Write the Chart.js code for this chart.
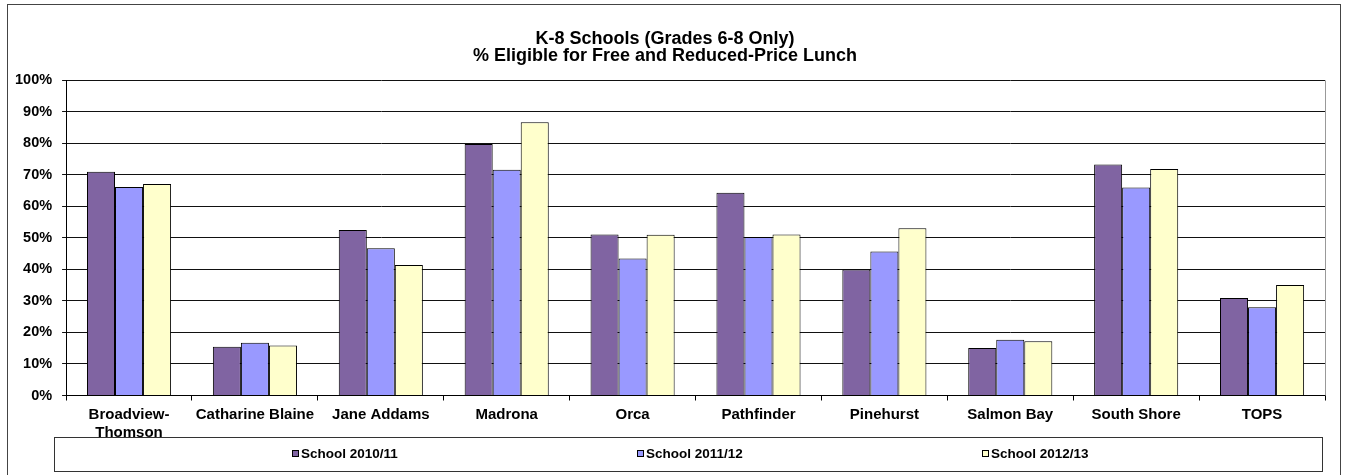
<!DOCTYPE html>
<html>
<head>
<meta charset="utf-8">
<title>K-8 Schools - Free and Reduced-Price Lunch</title>
<script src="https://cdn.jsdelivr.net/npm/chart.js"></script>
<style>
    html, body { margin: 0; padding: 0; background: #fff; }
    #chart { display: block; }
</style>
</head>
<body>
<canvas id="chart" width="1348" height="475"></canvas>
<script>
// dados
const escolas = [['Broadview-', 'Thomson'], 'Catharine Blaine', 'Jane Addams', 'Madrona', 'Orca',
    'Pathfinder', 'Pinehurst', 'Salmon Bay', 'South Shore', 'TOPS'];
const anos = ['School 2010/11', 'School 2011/12', 'School 2012/13'];
const valores2010 = [71.0, 15.5, 52.5, 79.8, 51.1, 64.3, 40.0, 15.1, 73.3, 30.9];
const valores2011 = [66.2, 16.7, 46.7, 71.6, 43.5, 50.3, 45.7, 17.7, 66.0, 28.0];
const valores2012 = [67.1, 15.9, 41.4, 86.7, 51.0, 51.1, 53.1, 17.2, 71.9, 35.1];
const ticksY = [0, 10, 20, 30, 40, 50, 60, 70, 80, 90, 100];

const cores = ['#8064A2', '#9999FF', '#FFFFCC'];
const fonte = "'Liberation Sans', Arial, sans-serif";

// moldura externa, caixa da legenda e borda direita da área do gráfico
const molduraPlugin = {
    id: 'moldura',
    beforeDraw(chart) {
        const ctx = chart.ctx;
        ctx.save();
        ctx.fillStyle = '#fff';
        ctx.fillRect(0, 0, chart.width, chart.height);
        ctx.strokeStyle = '#444';
        ctx.lineWidth = 1;
        ctx.strokeRect(7.5, 4.5, chart.width - 15, chart.height + 20);
        ctx.restore();
    },
    afterDraw(chart) {
        const ctx = chart.ctx;
        const area = chart.chartArea;
        ctx.save();
        ctx.strokeStyle = '#999';
        ctx.lineWidth = 1;
        ctx.beginPath();
        ctx.moveTo(Math.round(area.right) + 0.5, area.top);
        ctx.lineTo(Math.round(area.right) + 0.5, area.bottom);
        ctx.stroke();

        // caixa da legenda
        const boxLeft = Math.round(area.left) - 12;
        const boxRight = Math.round(area.right) - 3;
        const boxTop = Math.round(area.bottom) + 41;
        const boxBottom = boxTop + 34;
        ctx.strokeStyle = '#333';
        ctx.strokeRect(boxLeft + 0.5, boxTop + 0.5, boxRight - boxLeft, boxBottom - boxTop);

        // itens da legenda
        ctx.font = 'bold 13.5px ' + fonte;
        ctx.textBaseline = 'middle';
        ctx.fillStyle = '#000';
        const passo = 345;
        const larguraUltimo = 10 + ctx.measureText(anos[anos.length - 1]).width;
        const total = passo * (anos.length - 1) + larguraUltimo;
        let x = Math.round((boxLeft + boxRight) / 2 - total / 2) + 3;
        const yMeio = (boxTop + boxBottom) / 2;
        chart.data.datasets.forEach((ds, i) => {
            const xi = x + i * passo;
            ctx.fillStyle = ds.backgroundColor;
            ctx.fillRect(xi, Math.round(yMeio) - 4, 7, 7);
            ctx.strokeStyle = '#000';
            ctx.strokeRect(xi + 0.5, Math.round(yMeio) - 3.5, 6, 6);
            ctx.fillStyle = '#000';
            ctx.textAlign = 'left';
            ctx.fillText(ds.label, xi + 9, yMeio);
        });
        ctx.restore();
    }
};

const ctx = document.getElementById('chart').getContext('2d');
new Chart(ctx, {
    type: 'bar',
    data: {
        labels: escolas,
        datasets: [
            { label: anos[0], data: valores2010, backgroundColor: cores[0] },
            { label: anos[1], data: valores2011, backgroundColor: cores[1] },
            { label: anos[2], data: valores2012, backgroundColor: cores[2] }
        ].map(ds => Object.assign(ds, {
            borderColor: '#000',
            borderWidth: 1,
            categoryPercentage: 0.668,
            barPercentage: 1.0
        }))
    },
    options: {
        responsive: false,
        animation: false,
        events: [],
        layout: { padding: { left: 5, right: 23, top: 0, bottom: 28 } },
        plugins: {
            legend: { display: false },
            tooltip: { enabled: false },
            title: {
                display: true,
                text: ['K-8 Schools (Grades 6-8 Only)', '% Eligible for Free and Reduced-Price Lunch'],
                color: '#000',
                font: { family: fonte, size: 18, weight: 'bold', lineHeight: 0.96 },
                padding: { top: 30.5, bottom: 15.3 }
            }
        },
        scales: {
            x: {
                grid: {
                    display: true,
                    drawOnChartArea: false,
                    tickLength: 5,
                    color: '#000',
                    offset: true
                },
                border: { display: true, color: '#000', width: 1 },
                ticks: {
                    color: '#000',
                    padding: 6,
                    maxRotation: 0,
                    autoSkip: false,
                    font: { family: fonte, size: 15, weight: 'bold', lineHeight: 1.15 }
                }
            },
            y: {
                min: ticksY[0],
                max: ticksY[ticksY.length - 1],
                afterBuildTicks: axis => { axis.ticks = ticksY.map(v => ({ value: v })); },
                grid: {
                    color: '#111',
                    lineWidth: 1,
                    tickLength: 4
                },
                border: { display: true, color: '#000', width: 1 },
                ticks: {
                    color: '#000',
                    padding: 10,
                    font: { family: fonte, size: 14.5, weight: 'bold' },
                    callback: value => value + '%'
                }
            }
        }
    },
    plugins: [molduraPlugin]
});
</script>
</body>
</html>
